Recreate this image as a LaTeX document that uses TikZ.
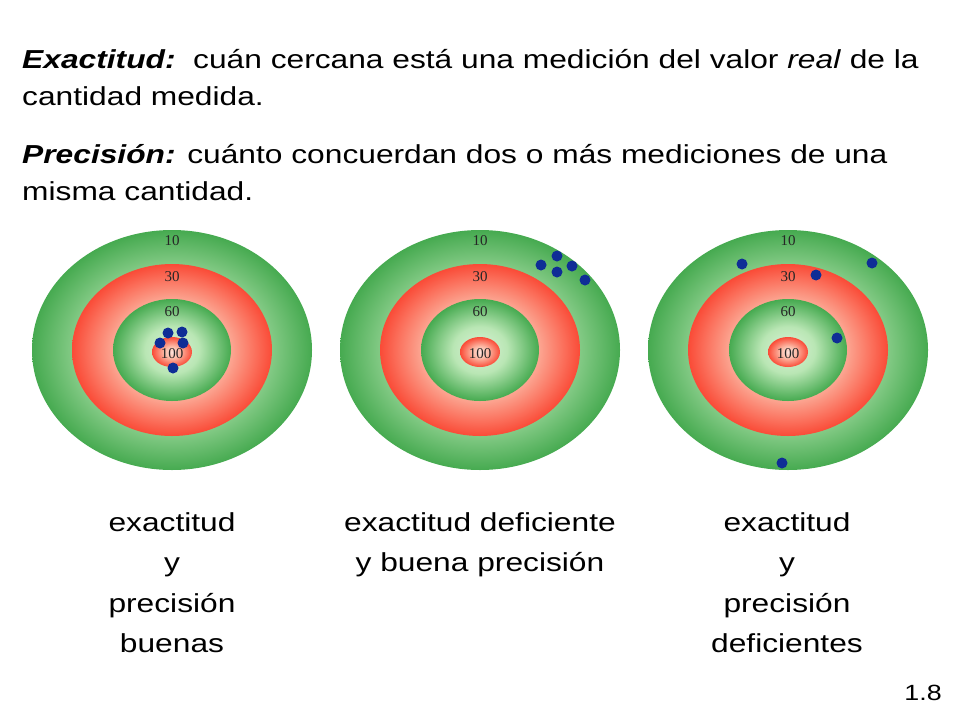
\documentclass[tikz,border=0pt]{standalone}
\usepackage{fontspec}
\setmainfont{Liberation Sans}
\newfontfamily\numf{Liberation Serif}
\definecolor{gd}{RGB}{70,170,80}
\definecolor{gl}{RGB}{185,230,180}
\definecolor{rd}{RGB}{250,75,55}
\definecolor{rl}{RGB}{252,185,165}
\definecolor{dotc}{RGB}{15,45,150}
\pgfdeclareradialshading{gshade}{\pgfpoint{0bp}{0bp}}{color(0bp)=(gl!50!white); color(11.5bp)=(gl); color(25bp)=(gd); color(50bp)=(gd)}
\pgfdeclareradialshading{rshade}{\pgfpoint{0bp}{0bp}}{color(0bp)=(rl!50!white); color(12.5bp)=(rl); color(25bp)=(rd); color(50bp)=(rd)}
\pgfdeclareradialshading{cshade}{\pgfpoint{0bp}{0bp}}{color(0bp)=(rl!40!white); color(10bp)=(rl); color(25bp)=(rd); color(50bp)=(rd)}
\tikzset{
  txt/.style={font=\fontsize{26}{31}\selectfont, inner sep=0pt, xscale=1.22, transform shape},
  lbl/.style={font=\fontsize{26}{40.5}\selectfont, align=center, inner sep=0pt, anchor=north, xscale=1.22, transform shape},
  num/.style={font=\numf\fontsize{15}{15}\selectfont, text=black!85, inner sep=0pt},
  hit/.style={fill=dotc, draw=none},
}
\newcommand{\target}[2]{%
  \begin{scope}[shift={(#1,#2)}]
    \shade[shading=gshade] (0,0) ellipse [x radius=140, y radius=120];
    \shade[shading=rshade] (0,0) ellipse [x radius=100, y radius=86];
    \shade[shading=gshade] (0,0) ellipse [x radius=59, y radius=51];
    \shade[shading=cshade] (0,2) ellipse [x radius=20, y radius=15];
    \node[num] at (0,-109) {10};
    \node[num] at (0,-73) {30};
    \node[num] at (0,-38) {60};
    \node[num] at (0,4) {100};
  \end{scope}}
\begin{document}
\begin{tikzpicture}[x=1pt,y=-1pt]
\useasboundingbox (0,0) rectangle (960,720);
\node[txt, anchor=base west] (l1) at (22,68) {\textbf{\textit{Exactitud:}}\ \ cuán cercana está una medición del valor \textit{real} de la};
\node[txt, anchor=base west] (l2) at (22,105) {cantidad medida.};
\node[txt, anchor=base west] (l3) at (22,163) {\textbf{\textit{Precisión:}} cuánto concuerdan dos o más mediciones de una};
\node[txt, anchor=base west] (l4) at (22,200) {misma cantidad.};
\target{172}{350}
\target{480}{350}
\target{788}{350}
\foreach \p in {(168,333),(182,332),(160,343),(183,343),(173,368),
                (541,265),(557,256),(572,266),(557,272),(585,280),
                (742,264),(816,275),(872,263),(837,338),(782,463)}
  \fill[hit] \p circle (5.5);
\node[lbl] (c1) at (172,512) {exactitud\\y\\precisión\\buenas};
\node[lbl] (c2) at (480,512) {exactitud deficiente\\y buena precisión};
\node[lbl] (c3) at (787,512) {exactitud\\y\\precisión\\deficientes};
\node[font=\fontsize{22}{22}\selectfont, anchor=base east, inner sep=0pt, xscale=1.22, transform shape] (pg) at (942,700) {1.8};
\end{tikzpicture}
\end{document}
